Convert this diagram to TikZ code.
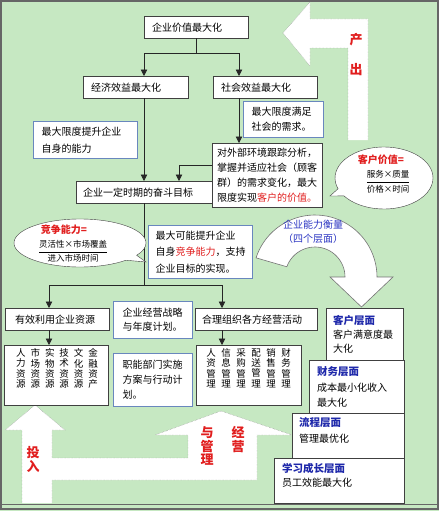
\documentclass[tikz,border=0pt]{standalone}
\usepackage{fontspec}
\setmainfont{Noto Sans CJK SC}
\usetikzlibrary{arrows.meta,shapes.geometric,shapes.callouts}

\definecolor{bggreen}{RGB}{198,232,194}
\definecolor{boxblue}{RGB}{105,135,190}
\definecolor{titleblue}{RGB}{30,40,170}
\definecolor{ringblue}{RGB}{45,55,195}
\definecolor{hotred}{RGB}{225,30,30}

\tikzset{
  box/.style={draw=black!75, fill=white, anchor=north west, align=left, inner xsep=8pt, inner ysep=2pt, font=\fontsize{10}{15}\selectfont},
  bluebox/.style={box, draw=boxblue, line width=1pt},
  colbox/.style={draw=black!75, fill=white, anchor=north west},
  coltext/.style={anchor=north, align=center, inner sep=0pt, font=\fontsize{9.5}{10.3}\selectfont},
  panel/.style={draw=black!75, fill=white, anchor=north west},
  paneltext/.style={anchor=north west, align=left, inner sep=0pt},
  bubble/.style={ellipse callout, draw=black!75, fill=white, inner sep=0pt},
  bubbletitle/.style={text=hotred, inner sep=0pt, font=\fontsize{10}{12}\bfseries},
  fraction/.style={inner sep=0pt, font=\fontsize{8.5}{10}\selectfont},
  bigedge/.style={draw=gray, densely dotted},
  arrowword/.style={text=hotred, align=center, inner sep=0pt},
  link/.style={draw=black!85, line width=0.8pt},
}

\begin{document}
\begin{tikzpicture}[x=1pt, y=-1pt, >={Triangle[width=6.5pt,length=6.5pt]}]
    \useasboundingbox (0,0) rectangle (439,511);
    \fill [bggreen] (0,0) rectangle (439,511);
    \draw [black!60, line width=1.5pt] (1,1) rectangle (438,509);
    \draw [black!60, line width=1pt] (1,504) -- (438,504);

    % white arrows behind the boxes
    \fill [white] (348,140) -- (348,48) -- (310,48) -- (310,66) -- (283,33) -- (310,2) -- (310,19) -- (368,19) -- (368,140) -- cycle;
    \draw [bigedge] (348,140) -- (348,48) -- (310,48) -- (310,66) -- (283,33) -- (310,2) -- (310,19) -- (368,19) -- (368,140);
    \fill [white] (22,503) -- (22,430) -- (5,430) -- (35,405) -- (65,430) -- (52,430) -- (52,458) -- (188,458) -- (188,435) -- (155,435) -- (221,411) -- (292,435) -- (257,435) -- (257,480) -- (52,480) -- (52,503) -- cycle;
    \draw [bigedge] (22,503) -- (22,430) -- (5,430) -- (35,405) -- (65,430) -- (52,430) -- (52,458) -- (188,458) -- (188,435) -- (155,435) -- (221,411) -- (292,435) -- (257,435) -- (257,480) -- (52,480) -- (52,503);
    \node [arrowword, font=\fontsize{13}{30}\bfseries] (outw) at (356,55) {产\\出};
    \node [arrowword, font=\fontsize{13}{14}\bfseries] (inw) at (33,460) {投\\入};
    \node [arrowword, font=\fontsize{13}{13.5}\bfseries] (mgw) at (207,446) {与\\管\\理};
    \node [arrowword, font=\fontsize{13}{14}\bfseries] (opw) at (238,440) {经\\营};

    \coordinate (spineL) at (144,0);
    \coordinate (spineM) at (179,0);
    \coordinate (spineR) at (239,0);
    \coordinate (spineRes) at (49,0);
    \coordinate (spineOrg) at (222,0);

    \node [box, text width=88pt, minimum height=22pt] (top) at (144,16) {企业价值最大化};
    \node [box, text width=89pt, minimum height=22pt] (eco) at (83,76) {经济效益最大化};
    \node [box, text width=88pt, minimum height=22pt] (soc) at (213,76) {社会效益最大化};
    \node [bluebox, text width=88pt, minimum height=37pt, font=\fontsize{10}{17}\selectfont] (selfcap) at (33,121) {最大限度提升企业\\自身的能力};
    \node [bluebox, text width=64pt, minimum height=36pt] (meet) at (243,101) {最大限度满足\\社会的需求。};
    \node [box, inner xsep=5pt, text width=100pt, minimum height=64pt] (env) at (212,143) {对外部环境跟踪分析，\\掌握并适应社会（顾客\\群）的需求变化，最大\\限度实现{\color{hotred}客户的价值。}};
    \node [box, inner xsep=7pt, text width=122pt, minimum height=22pt] (goal) at (76,181) {企业一定时期的奋斗目标};
    \node [bluebox, inner xsep=7pt, text width=90pt, minimum height=53pt, font=\fontsize{10}{16.5}\selectfont] (compcap) at (148,225) {最大可能提升企业\\自身{\color{hotred}竞争能力}，支持\\企业目标的实现。};

    \draw [link] (top.south) -- ++(0,15) coordinate (split1);
    \draw [link,->] (split1) -| (eco.north -| spineL);
    \draw [link,->] (split1) -| (soc.north -| spineR);
    \draw [link,->] (eco.south -| spineL) -- (goal.north -| spineL);
    \draw [link,->] (soc.south -| spineR) -- (env.north -| spineR);
    \draw [link,->] ([yshift=10pt]env.west) -| (goal.north -| spineM);
    \draw [link] (goal.south -| spineL) -- ++(0,82) coordinate (split2);

    \node [box, inner xsep=10pt, text width=84pt, minimum height=22pt] (res) at (5,308) {有效利用企业资源};
    \node [bluebox, inner xsep=9pt, text width=61pt, minimum height=37pt, font=\fontsize{10}{14}\selectfont] (plan) at (113,301) {企业经营战略\\与年度计划。};
    \node [box, inner xsep=7pt, text width=108pt, minimum height=22pt] (org) at (195,308) {合理组织各方经营活动};
    \node [colbox, minimum width=104pt, minimum height=60pt] (rescol) at (4,345) {};
    \node [bluebox, inner xsep=9pt, text width=61pt, minimum height=53pt] (impl) at (113,353) {职能部门实施\\方案与行动计\\划。};
    \node [colbox, minimum width=105pt, minimum height=60pt] (mgmtcol) at (196,345) {};

    \draw [link,->] (split2) -| (res.north -| spineRes);
    \draw [link,->] (split2) -| (org.north -| spineOrg);
    \draw [link,->] (res.south -| spineRes) -- (rescol.north -| spineRes);
    \draw [link,->] (org.south -| spineOrg) -- (mgmtcol.north -| spineOrg);

    % resources, one column each
    \node [coltext] (hr) at (21,348.5) {人\\力\\资\\源};
    \node [coltext] (mkt) at (35.4,348.5) {市\\场\\资\\源};
    \node [coltext] (phy) at (49.8,348.5) {实\\物\\资\\源};
    \node [coltext] (tech) at (64.2,348.5) {技\\术\\资\\源};
    \node [coltext] (cult) at (78.6,348.5) {文\\化\\资\\源};
    \node [coltext] (fina) at (93,348.5) {金\\融\\资\\产};
    % management, one column each
    \node [coltext] (hrm) at (211,348.5) {人\\资\\管\\理};
    \node [coltext] (infm) at (226,348.5) {信\\息\\管\\理};
    \node [coltext] (purm) at (241,348.5) {采\\购\\管\\理};
    \node [coltext] (logm) at (256,348.5) {配\\送\\管\\理};
    \node [coltext] (salm) at (271,348.5) {销\\售\\管\\理};
    \node [coltext] (finm) at (286,348.5) {财\\务\\管\\理};

    % four levels
    \node [panel, minimum width=77pt, minimum height=52pt] (cust) at (326,308) {};
    \node [panel, minimum width=95pt, minimum height=53pt] (fin) at (309,360) {};
    \node [panel, minimum width=112pt, minimum height=45pt] (proc) at (292,413) {};
    \node [panel, minimum width=130pt, minimum height=45pt] (learn) at (274,458) {};
    \node [paneltext, font=\fontsize{10}{14}\selectfont] (custtxt) at (333,315) {{\color{titleblue}\bfseries\fontsize{10.5}{14}\selectfont 客户层面}\\客户满意度最\\大化};
    \node [paneltext, font=\fontsize{10}{15.5}\selectfont] (fintxt) at (317,366.5) {{\color{titleblue}\bfseries\fontsize{10.5}{15.5}\selectfont 财务层面}\\成本最小化收入\\最大化};
    \node [paneltext, font=\fontsize{10}{16}\selectfont] (proctxt) at (299,417.5) {{\color{titleblue}\bfseries\fontsize{10.5}{16}\selectfont 流程层面}\\管理最优化};
    \node [paneltext, font=\fontsize{10}{14}\selectfont] (learntxt) at (282,463.5) {{\color{titleblue}\bfseries\fontsize{10.5}{14}\selectfont 学习成长层面}\\员工效能最大化};

    % curved arrow down to the customer level
    \draw [fill=white, draw=black!55, line width=0.6pt] plot [domain=162:0, samples=40] ({315+62*cos(\x)}, {277-62*sin(\x)}) -- (393,277) -- (361.5,307) -- (330,277) -- plot [domain=0:160, samples=30] ({315+30*cos(\x)}, {277-30*sin(\x)}) -- cycle;
    \node [text=ringblue, align=center, inner sep=0pt, font=\fontsize{10}{14}\selectfont] (ringtxt) at (313,232) {企业能力衡量\\（四个层面）};

    % callouts
    \node [bubble, minimum width=132pt, minimum height=48pt, callout absolute pointer={(146,262)}] (compbub) at (80,243) {};
    \node [bubbletitle] (comptitle) at (64,230) {竞争能力=};
    \node [fraction] (compfrac) at (73,252) {\renewcommand{\arraystretch}{1.35}\begin{tabular}{@{}c@{}}灵活性×市场覆盖\\\hline 进入市场时间\end{tabular}};
    \node [bubble, minimum width=98pt, minimum height=62pt, callout absolute pointer={(330,196)}] (valbub) at (384,178) {};
    \node [bubbletitle] (valtitle) at (381,160) {客户价值=};
    \node [fraction] (valfrac) at (388,182) {\renewcommand{\arraystretch}{1.45}\begin{tabular}{@{}c@{}}服务×质量\\\hline 价格×时间\end{tabular}};
\end{tikzpicture}
\end{document}
